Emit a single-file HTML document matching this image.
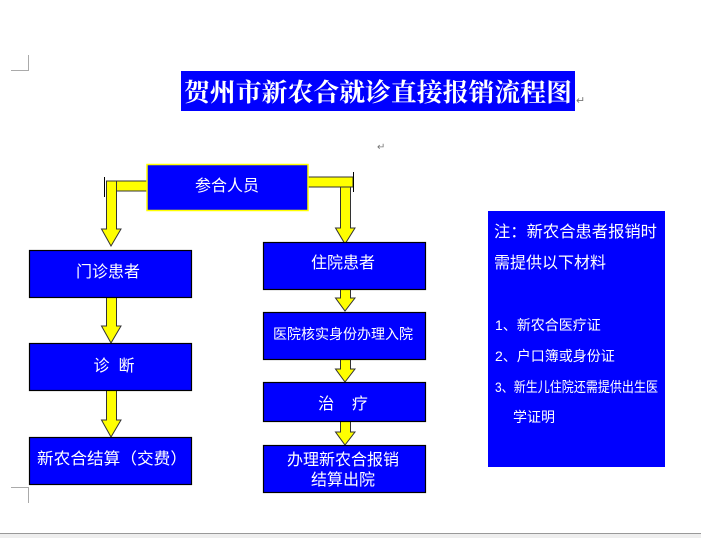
<!DOCTYPE html>
<html><head><meta charset="utf-8"><style>
html,body{margin:0;padding:0;background:#fff;width:701px;height:538px;overflow:hidden}
text{font-family:"Liberation Sans","Noto Sans CJK SC",sans-serif;fill:#fff}
</style></head><body>
<svg width="701" height="538" viewBox="0 0 701 538" xmlns="http://www.w3.org/2000/svg">
<path d="M11 70.5H28.5V55" fill="none" stroke="#aaa" stroke-width="1"/>
<path d="M11 487.5H28.5V503" fill="none" stroke="#aaa" stroke-width="1"/>
<rect x="181" y="71" width="394" height="40" fill="#0000ff"/>
<text x="184" y="101" font-size="25" font-weight="bold" textLength="388" lengthAdjust="spacingAndGlyphs" style="font-family:'Liberation Serif','Noto Serif CJK SC',serif">贺州市新农合就诊直接报销流程图</text>
<text x="576" y="104" font-size="11" style="fill:#777">↵</text>
<text x="377" y="150" font-size="10" style="fill:#777">↵</text>
<g fill="#ffff00" stroke="#333" stroke-width="1">
<rect x="110" y="181" width="37" height="10"/>
<path d="M106.5 181V229H101.5L111 246L121 229H116.5V181Z"/>
<rect x="308" y="177" width="45" height="10"/>
<path d="M340.5 187V228H335.5L345 244L355 228H350.5V187Z"/>
<path d="M106.5 297V326H101.5L111 343L121 326H116.5V297Z"/>
<path d="M106.5 390V420H101.5L111 437L121 420H116.5V390Z"/>
<path d="M340.5 289V298H335.5L345 311L355 298H350.5V289Z"/>
<path d="M340.5 359V369H335.5L345 382L355 369H350.5V359Z"/>
<path d="M340.5 421V432H335.5L345 445L355 432H350.5V421Z"/>
</g>
<path d="M104.5 177V197M353.5 172V192" stroke="#000" stroke-width="1"/>
<rect x="147" y="164.5" width="161" height="46" fill="#0000ff" stroke="#ffff00" stroke-width="1.5"/>
<g fill="#0000ff" stroke="#000" stroke-width="1.2">
<rect x="29.5" y="250.5" width="162" height="47"/>
<rect x="29.5" y="343.5" width="162" height="47"/>
<rect x="29.5" y="437.5" width="162" height="47"/>
<rect x="263.5" y="242.5" width="162" height="47"/>
<rect x="263.5" y="312.5" width="162" height="47"/>
<rect x="263.5" y="382.5" width="162" height="39"/>
<rect x="263.5" y="445.5" width="162" height="47"/>
</g>
<rect x="488" y="211" width="177" height="256" fill="#0000ff"/>
<g font-size="16">
<text x="227" y="191" text-anchor="middle">参合人员</text>
<text x="108" y="277" text-anchor="middle">门诊患者</text>
<text x="114" y="371" text-anchor="middle">诊 &#160;断</text>
<text x="37" y="464" textLength="150" lengthAdjust="spacingAndGlyphs">新农合结算（交费）</text>
<text x="343" y="268" text-anchor="middle">住院患者</text>
<text x="343" y="339" text-anchor="middle" font-size="14">医院核实身份办理入院</text>
<text x="343" y="409" text-anchor="middle">治 &#160; &#160;疗</text>
<text x="343" y="465" text-anchor="middle">办理新农合报销</text>
<text x="343" y="485" text-anchor="middle">结算出院</text>
<text x="494" y="237" textLength="163" lengthAdjust="spacingAndGlyphs">注：新农合患者报销时</text>
<text x="494" y="268">需提供以下材料</text>
</g>
<g font-size="14">
<text x="495" y="330">1、新农合医疗证</text>
<text x="495" y="361">2、户口簿或身份证</text>
<text x="495" y="392" textLength="163" lengthAdjust="spacingAndGlyphs">3、新生儿住院还需提供出生医</text>
<text x="513" y="422">学证明</text>
</g>
<rect x="0" y="533" width="701" height="5" fill="#eee"/>
<path d="M0 533.5H701" stroke="#999" stroke-width="1"/>
</svg>
</body></html>
